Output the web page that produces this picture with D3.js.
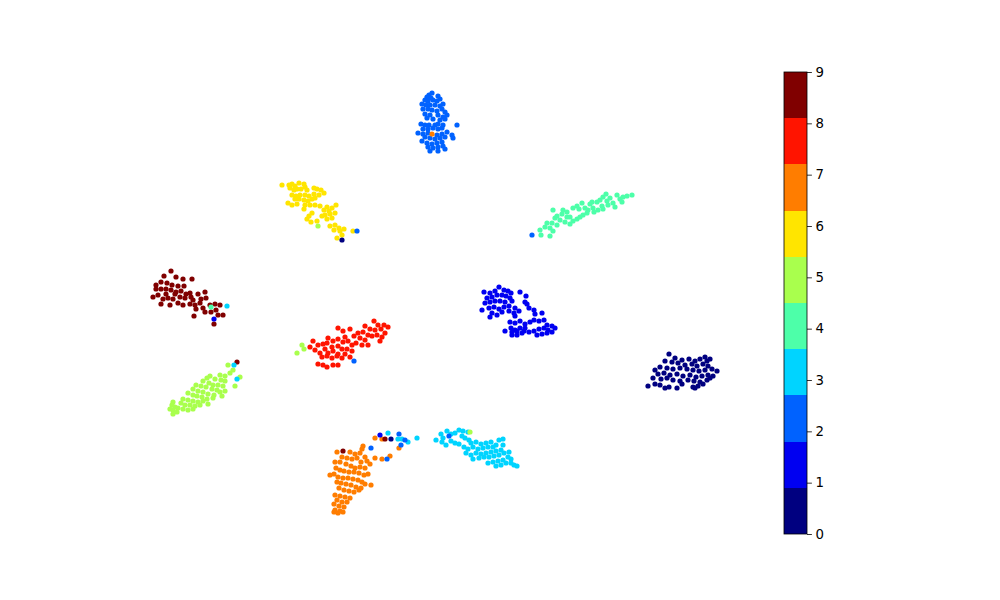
<!DOCTYPE html>
<html><head><meta charset="utf-8">
<script src="https://cdn.jsdelivr.net/npm/d3@7"></script>
<style>html,body{margin:0;padding:0;background:#fff;}svg{display:block;font-family:"DejaVu Sans",sans-serif;}</style>
</head><body><svg id="c" width="1000" height="600"></svg>
<script>
// t-SNE embedding, points grouped by digit label
const digit0 = [[66.9,24.6],[67.5,24.2],[68.2,24.0],[68.9,24.1],[69.5,23.9],[70.0,24.1],[70.5,24.3],[70.7,23.9],[71.0,24.1],[66.5,23.9],[67.2,23.8],[67.8,23.7],[68.5,23.5],[69.2,23.6],[69.7,23.4],[70.3,23.6],[70.8,23.4],[66.0,23.3],[66.7,23.2],[67.3,23.1],[68.0,23.2],[68.7,23.1],[69.3,23.0],[69.9,22.9],[70.5,23.0],[71.2,23.1],[71.7,22.9],[65.5,23.0],[65.8,22.6],[66.4,22.7],[67.0,22.5],[67.7,22.6],[68.3,22.4],[69.0,22.5],[69.6,22.3],[70.2,22.4],[70.8,22.5],[71.3,22.4],[65.3,22.2],[66.1,22.1],[66.7,22.2],[67.3,22.0],[68.0,21.9],[68.8,22.0],[69.4,21.9],[70.0,21.8],[70.7,22.0],[64.8,21.4],[65.5,21.6],[66.0,21.5],[66.5,21.2],[66.9,21.3],[67.7,21.2],[69.3,21.3],[69.8,21.4],[70.3,21.6],[69.5,21.2],[68.2,21.6],[71.0,22.2]];
const digit1 = [[49.9,31.3],[50.4,31.0],[50.8,30.9],[51.1,30.7],[49.5,30.9],[49.0,30.7],[48.4,30.8],[48.7,30.2],[49.2,30.3],[49.7,30.5],[50.2,30.5],[50.6,30.4],[51.0,30.2],[52.0,30.8],[52.6,30.4],[48.2,29.0],[48.5,29.7],[49.0,29.8],[49.5,29.9],[50.0,29.9],[50.5,29.8],[51.2,29.9],[52.5,29.8],[52.7,29.6],[48.9,29.2],[49.4,29.3],[49.9,29.1],[50.4,29.3],[50.9,29.4],[51.5,29.2],[52.9,29.2],[53.4,29.0],[49.2,28.7],[49.7,28.5],[50.2,28.8],[50.9,28.9],[51.4,28.7],[51.9,28.9],[49.0,28.3],[51.5,28.4],[53.5,28.6],[54.2,28.7],[51.0,27.8],[51.5,27.7],[52.0,27.9],[52.5,27.6],[53.0,27.8],[53.4,28.0],[53.9,27.9],[54.4,28.0],[54.7,27.5],[55.2,27.4],[55.5,27.2],[50.5,26.9],[51.1,27.2],[51.5,27.0],[52.0,27.2],[52.4,26.9],[52.9,26.8],[53.4,26.9],[53.9,27.1],[54.4,27.2],[54.8,27.0],[51.2,26.5],[51.7,26.5],[52.2,26.7],[53.7,26.5],[54.2,26.6],[54.7,26.7],[55.2,26.8],[51.2,26.8],[51.7,26.9],[52.5,27.2]];
const digit2 = [[43.2,50.7],[42.9,50.5],[42.7,50.3],[43.1,50.2],[43.8,50.4],[44.0,50.1],[42.5,50.0],[42.8,49.9],[43.3,50.0],[43.7,49.9],[42.2,49.6],[42.6,49.5],[43.0,49.5],[43.5,49.5],[44.0,49.4],[44.3,49.6],[42.3,49.1],[42.8,49.1],[43.2,49.0],[43.7,48.9],[44.2,49.1],[44.5,48.8],[42.5,48.6],[43.0,48.5],[43.8,48.5],[44.3,48.3],[44.7,48.5],[42.7,48.2],[43.3,48.1],[44.0,48.0],[44.5,48.1],[42.1,47.6],[42.5,47.5],[42.9,47.5],[43.5,47.5],[43.8,47.6],[44.3,47.5],[42.3,47.1],[42.8,47.1],[43.3,47.2],[43.8,47.1],[44.2,47.2],[45.7,47.5],[41.8,46.7],[42.3,46.6],[42.8,46.7],[43.7,46.5],[44.2,46.6],[44.7,46.8],[45.2,46.5],[42.5,46.3],[43.0,46.2],[43.5,46.1],[44.0,46.2],[44.5,46.3],[45.3,46.2],[42.2,45.9],[42.7,45.7],[43.2,45.6],[43.7,45.7],[44.2,45.8],[42.8,45.3],[43.3,45.2],[43.8,45.3],[44.3,45.4],[43.0,44.9],[43.8,44.9],[44.5,45.1]];
const digit3 = [[44.1,16.6],[44.7,16.9],[45.1,16.6],[45.5,16.7],[45.9,17.0],[46.3,16.9],[46.8,16.8],[44.3,16.2],[43.6,16.0],[45.1,15.9],[45.5,15.7],[45.9,15.6],[46.2,16.4],[46.5,16.2],[46.9,16.0],[47.1,15.7],[47.6,15.8],[48.1,15.6],[48.6,15.7],[49.1,15.8],[46.4,15.3],[46.8,15.1],[47.3,15.3],[47.8,15.1],[48.3,15.2],[48.8,15.3],[49.3,15.3],[49.9,16.0],[50.3,16.1],[49.6,15.5],[50.3,15.5],[46.6,14.7],[47.1,14.5],[47.6,14.7],[48.1,14.6],[48.6,14.7],[49.1,14.8],[49.6,14.9],[50.1,15.0],[47.3,14.1],[47.9,14.2],[48.4,14.3],[48.9,14.3],[49.4,14.4],[49.9,14.5],[50.4,14.7],[50.9,14.8],[48.8,13.7],[49.3,13.8],[49.8,13.9],[50.3,14.0],[50.8,14.3],[51.1,14.1],[49.6,13.4],[50.1,13.5],[50.6,13.7],[51.1,13.7],[51.4,13.5],[51.7,13.4],[44.6,15.5],[44.2,15.8]];
const digit4 = [[54.1,36.5],[55.0,36.4],[54.0,37.0],[54.5,37.3],[55.0,37.2],[55.3,36.9],[54.7,37.7],[55.3,39.0],[55.5,38.2],[55.7,38.4],[56.2,38.6],[56.3,39.0],[56.7,38.3],[56.0,38.0],[56.5,37.8],[57.0,37.6],[57.3,37.9],[57.7,38.1],[58.0,38.3],[58.3,38.5],[57.0,38.3],[57.3,39.2],[57.7,39.4],[58.2,39.7],[57.9,39.1],[58.5,39.2],[59.0,39.6],[58.8,39.0],[59.3,39.2],[59.7,39.8],[60.0,40.0],[60.3,40.3],[60.6,40.6],[60.2,39.4],[59.8,39.0],[59.4,38.8],[60.3,39.1],[60.7,39.9],[61.0,40.2],[61.3,39.7],[61.7,40.5],[62.0,40.1],[62.3,40.3],[62.7,40.4],[63.2,40.5],[61.5,39.3],[55.2,37.7],[55.7,37.5],[56.7,38.8],[58.7,38.7],[60.8,39.5],[59.2,39.8],[62.2,39.8]];
const digit5 = [[22.8,23.5],[23.3,23.0],[24.0,22.3],[23.0,22.7],[22.5,22.4],[22.0,22.5],[23.5,21.4],[21.0,22.4],[20.7,22.2],[21.5,22.1],[22.1,22.0],[22.5,21.9],[20.3,21.9],[20.9,21.7],[21.3,21.5],[21.8,21.5],[22.3,21.4],[19.6,21.5],[20.1,21.4],[20.6,21.3],[21.2,21.1],[21.7,21.0],[19.3,21.1],[19.8,20.9],[20.3,20.8],[20.8,20.6],[21.4,20.5],[22.0,20.8],[22.5,20.9],[18.8,20.7],[19.3,20.5],[19.7,20.4],[20.2,20.3],[20.7,20.1],[21.3,20.2],[22.2,20.4],[18.3,20.1],[18.8,20.0],[19.3,19.9],[19.8,19.8],[20.3,19.9],[20.8,19.6],[18.1,19.7],[18.5,19.5],[19.0,19.5],[19.5,19.4],[20.0,19.5],[17.3,19.8],[17.5,19.3],[17.8,19.2],[17.2,19.5],[17.3,19.0],[17.7,18.8],[18.3,19.1],[18.8,19.0],[19.3,19.1],[17.3,18.6],[17.0,19.1]];
const digit6 = [[28.2,41.5],[28.9,41.5],[29.2,41.6],[29.5,41.4],[29.9,41.7],[30.4,41.6],[30.5,41.3],[29.0,41.2],[29.4,41.0],[29.7,41.1],[30.1,41.1],[30.7,41.0],[31.4,41.2],[31.7,41.1],[32.1,41.0],[29.2,40.5],[29.6,40.4],[30.0,40.5],[30.5,40.5],[30.9,40.4],[31.4,40.6],[31.9,40.5],[32.4,40.7],[29.5,40.1],[29.9,40.1],[30.4,40.0],[30.8,39.9],[31.2,40.1],[31.5,40.2],[28.8,39.7],[29.2,39.5],[29.7,39.6],[30.5,39.5],[31.0,39.5],[31.5,39.5],[30.4,39.1],[32.0,39.4],[32.7,39.3],[33.2,39.2],[33.6,39.5],[32.4,39.0],[32.9,38.9],[32.5,38.5],[33.0,38.6],[33.5,38.7],[32.2,38.4],[32.7,38.1],[33.2,38.2],[31.2,38.7],[30.9,38.4],[30.7,38.1],[31.1,37.8],[31.7,37.9],[33.0,37.4],[33.5,37.5],[33.9,37.2],[33.4,37.0],[34.0,36.9],[34.4,37.1],[34.2,36.5],[33.7,36.2],[35.3,36.9]];
const digit7 = [[37.5,16.2],[38.2,16.1],[39.9,15.2],[36.3,15.4],[36.2,15.1],[33.7,14.8],[35.0,14.8],[35.5,14.6],[36.0,14.7],[36.5,14.3],[37.5,14.2],[38.2,14.1],[39.0,14.4],[34.2,14.3],[34.7,14.2],[35.2,14.1],[35.7,14.2],[36.1,13.8],[36.7,13.9],[37.0,13.6],[33.5,13.8],[34.0,13.8],[34.6,13.6],[35.1,13.4],[35.5,13.2],[36.0,13.3],[36.5,13.2],[33.6,13.2],[34.0,13.0],[34.4,12.9],[34.9,12.8],[35.4,12.8],[35.9,12.7],[36.4,12.5],[36.8,12.6],[33.0,12.5],[33.4,12.6],[33.8,12.3],[34.3,12.2],[34.8,12.2],[35.3,12.1],[35.8,12.0],[36.2,11.8],[36.5,11.6],[37.1,11.5],[33.7,11.8],[34.1,11.7],[34.6,11.6],[35.1,11.5],[35.6,11.3],[36.1,11.2],[33.9,11.2],[34.4,11.0],[34.9,10.9],[35.4,10.8],[35.9,11.0],[33.5,10.5],[34.0,10.4],[34.5,10.3],[35.0,10.2],[33.7,10.0],[34.2,9.8],[34.7,9.8],[33.4,9.6],[33.9,9.4],[34.4,9.3],[33.5,9.0],[34.0,8.9],[33.4,8.8],[33.8,8.7],[34.3,8.8]];
const digit8 = [[37.4,27.9],[36.5,27.4],[37.8,27.5],[38.4,27.5],[38.8,27.3],[37.0,27.1],[37.5,27.0],[38.1,27.1],[38.5,26.7],[35.8,26.7],[36.3,26.8],[36.8,26.5],[37.2,26.4],[37.7,26.5],[38.2,26.3],[33.8,27.2],[35.0,27.1],[34.3,26.9],[34.5,26.3],[35.4,26.4],[36.0,26.2],[36.5,26.0],[35.6,25.7],[36.2,25.5],[36.8,25.5],[38.0,25.9],[32.8,26.2],[33.8,26.1],[33.3,25.9],[34.3,25.8],[34.8,25.9],[35.2,25.5],[31.3,25.9],[31.8,25.5],[32.3,25.6],[32.7,25.7],[31.0,25.3],[32.5,25.1],[33.2,25.3],[33.8,25.4],[34.2,25.1],[34.7,25.1],[32.0,24.7],[32.8,24.7],[33.3,24.9],[33.8,24.6],[34.5,24.6],[35.0,24.3],[32.2,24.3],[32.7,24.4],[33.2,24.2],[33.7,24.4],[34.2,24.2],[31.8,23.6],[32.3,23.5],[32.7,23.3],[33.3,23.5],[33.8,23.5],[35.2,24.9],[31.5,25.0]];
const digit9 = [[17.1,32.9],[16.4,32.4],[17.6,32.3],[18.3,32.1],[19.2,32.1],[15.6,31.5],[16.1,31.8],[16.7,31.7],[17.2,31.5],[17.8,31.4],[18.4,31.4],[15.3,30.3],[15.8,30.5],[15.6,31.1],[16.1,31.1],[16.6,31.1],[17.1,31.0],[17.6,30.8],[18.1,30.9],[18.6,30.6],[19.0,30.7],[16.3,30.1],[16.8,30.2],[17.3,30.1],[18.0,30.3],[18.5,30.2],[19.1,30.3],[19.8,30.6],[20.5,30.8],[20.1,30.1],[16.1,29.6],[17.0,29.5],[17.8,29.7],[18.3,29.5],[19.0,29.6],[19.5,29.5],[20.0,29.7],[20.6,30.2],[19.6,29.1],[20.3,29.2],[21.0,29.5],[21.5,29.6],[22.0,29.5],[20.5,28.8],[21.1,28.8],[21.6,29.0],[21.8,28.5],[22.3,28.5],[19.4,28.4],[21.4,27.6],[19.3,30.0],[17.5,30.6],[16.6,30.6]];
// misplaced samples: [x, y, digit]
const strays = [[43.2,46.6,7],[31.8,37.4,5],[34.2,36.0,0],[35.7,36.9,2],[53.2,36.5,2],[22.7,29.4,3],[21.1,29.3,4],[21.4,28.1,1],[30.2,25.5,5],[30.4,25.1,5],[29.7,24.7,5],[35.4,23.9,2],[23.7,23.8,9],[23.4,23.5,3],[23.7,22.1,3],[34.3,14.9,9],[38.0,16.5,1],[38.8,16.7,3],[39.9,16.6,2],[38.5,16.1,9],[39.1,16.1,0],[39.8,16.1,3],[40.2,16.1,3],[40.8,15.8,3],[41.7,16.2,3],[40.5,16.0,2],[40.1,15.5,2],[37.1,15.2,2],[38.7,14.1,2],[44.9,16.4,2],[47.0,16.8,5]];
const colorTicks = [0,1,2,3,4,5,6,7,8,9];
const jetColors = ["#000080","#0000f1","#0062ff","#00d4ff","#4dffa9","#a9ff4d","#ffe500","#ff7d00","#ff1400","#800000"];

const svg = d3.select("#c");
const x = d3.scaleLinear().domain([12.5, 74.5]).range([125, 745]);
const y = d3.scaleLinear().domain([6.6, 52.8]).range([534, 72]);
const color = d3.scaleOrdinal().domain(colorTicks).range(jetColors);

const groups = [digit0,digit1,digit2,digit3,digit4,digit5,digit6,digit7,digit8,digit9];
const pts = [];
groups.forEach((g,i)=>g.forEach(p=>pts.push({x:p[0],y:p[1],c:i})));
strays.forEach(p=>pts.push({x:p[0],y:p[1],c:p[2]}));

svg.append("g").selectAll("circle").data(pts).join("circle")
  .attr("cx",d=>x(d.x)).attr("cy",d=>y(d.y)).attr("r",2.6)
  .attr("fill",d=>color(d.c));

// colorbar
const cb = d3.scaleLinear().domain([0,9]).range([534,72]);
const cbx = 784, cbw = 23;
const bins = jetColors.map((c,i)=>({lo:i*0.9,hi:(i+1)*0.9,c}));
const cg = svg.append("g");
cg.selectAll("rect").data(bins).join("rect")
  .attr("x",cbx).attr("width",cbw)
  .attr("y",d=>cb(d.hi)).attr("height",d=>cb(d.lo)-cb(d.hi))
  .attr("fill",d=>d.c).attr("shape-rendering","crispEdges");
cg.append("rect").attr("x",cbx).attr("y",72).attr("width",cbw).attr("height",462)
  .attr("fill","none").attr("stroke","#000").attr("stroke-width",0.8);
const ax = cg.append("g").attr("transform",`translate(${cbx+cbw},0)`)
  .call(d3.axisRight(cb).tickValues(colorTicks).tickFormat(d3.format("d")).tickSize(4.9).tickPadding(3.5));
ax.select(".domain").remove();
ax.selectAll("line").attr("stroke","#000").attr("stroke-width",0.8);
ax.selectAll("text").attr("font-size","13.3px").attr("fill","#000").attr("font-family","DejaVu Sans");
</script></body></html>
